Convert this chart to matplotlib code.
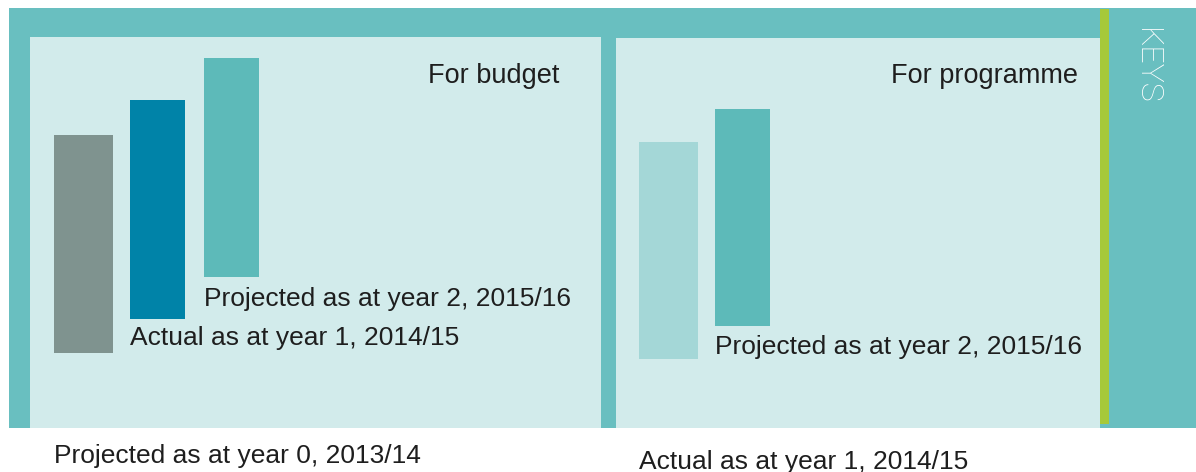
import numpy as np
import matplotlib.pyplot as plt
from matplotlib.patches import Rectangle

plt.rcParams['font.family'] = ['Liberation Sans', 'DejaVu Sans']

# valores de las barras (altura sobre la base del panel)
budget_labels = ['Projected as at year 0, 2013/14',
                 'Actual as at year 1, 2014/15',
                 'Projected as at year 2, 2015/16']
budget_bottom = np.array([75, 109, 151])
budget_top = np.array([293, 328, 370])

prog_labels = ['Actual as at year 1, 2014/15',
               'Projected as at year 2, 2015/16']
prog_bottom = np.array([69, 102])
prog_top = np.array([286, 319])

# colores
teal_frame = '#69bfc0'
panel_bg = '#d2ebeb'
c_gray = '#7f938f'
c_dark = '#0083a8'
c_teal = '#5dbab9'
c_light = '#a4d7d7'
c_green = '#a6c93a'
c_text = '#1e1e1e'

W, H = 1196, 472
fig = plt.figure(figsize=(W / 100, H / 100), dpi=100)

# marco de fondo en pixeles
bg = fig.add_axes([0, 0, 1, 1])
bg.set_xlim(0, W)
bg.set_ylim(H, 0)
bg.axis('off')
bg.add_patch(Rectangle((9, 8), W - 9, 420, color=teal_frame, lw=0))
bg.add_patch(Rectangle((1100, 9), 9, 415, color=c_green, lw=0))
bg.text(1146, 28, 'KEYS', rotation=270, ha='center', va='top',
        color='white', fontsize=23, family=['Roboto', 'DejaVu Sans'],
        fontweight='light')


def panel(x0, y0, x1, y1, first_center):
    ax = fig.add_axes([x0 / W, (H - y1) / H, (x1 - x0) / W, (y1 - y0) / H])
    ax.set_facecolor(panel_bg)
    ax.set_xlim(-(first_center - x0) / 74, -(first_center - x0) / 74 + (x1 - x0) / 74)
    ax.set_ylim(0, y1 - y0)
    for s in ax.spines.values():
        s.set_visible(False)
    ax.set_xticks([])
    ax.set_yticks([])
    return ax


ax1 = panel(30, 37, 601, 428, 83.5)
ax2 = panel(616, 38, 1100, 428, 668.5)

fs = 19
fs_t = 19.5

# panel izquierdo: presupuesto
w1 = [0.80, 0.73, 0.73]
cols1 = [c_gray, c_dark, c_teal]
x1 = np.arange(len(budget_labels))
ax1.bar(x1, budget_top - budget_bottom, bottom=budget_bottom, width=w1,
        color=cols1, align='center')
offs1 = [110, 26, 29]
for i in range(len(x1)):
    ax1.text(x1[i] - w1[i] / 2, budget_bottom[i] - offs1[i], budget_labels[i],
             ha='left', va='baseline', fontsize=fs, color=c_text, clip_on=False)
ax1.text(0.927, 345, 'For budget', transform=ax1.get_yaxis_transform(),
         ha='right', va='baseline', fontsize=fs_t, color=c_text)

# panel derecho: programa
w2 = [0.80, 0.73]
cols2 = [c_light, c_teal]
x2 = np.arange(len(prog_labels))
ax2.bar(x2, prog_top - prog_bottom, bottom=prog_bottom, width=w2,
        color=cols2, align='center')
offs2 = [110, 28]
for i in range(len(x2)):
    ax2.text(x2[i] - w2[i] / 2, prog_bottom[i] - offs2[i], prog_labels[i],
             ha='left', va='baseline', fontsize=fs, color=c_text, clip_on=False)
ax2.text(0.955, 345, 'For programme', transform=ax2.get_yaxis_transform(),
         ha='right', va='baseline', fontsize=fs_t, color=c_text)

fig.savefig('out.png', dpi=100)
